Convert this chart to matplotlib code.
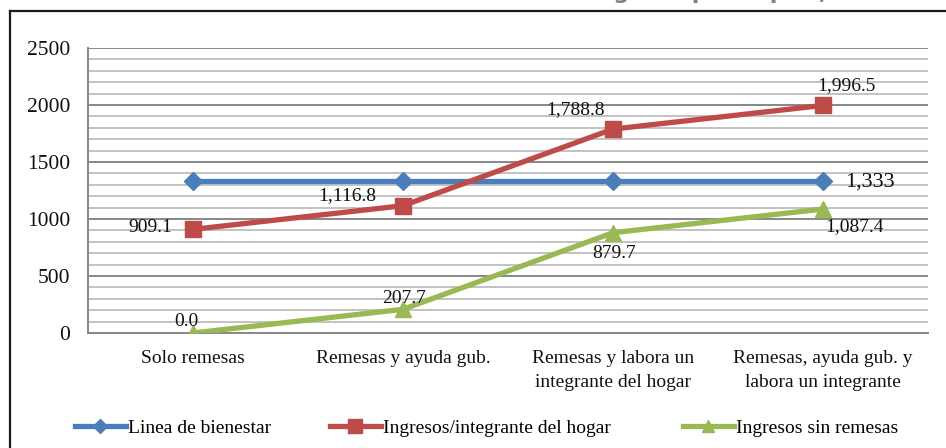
import matplotlib
matplotlib.use("Agg")
import matplotlib.pyplot as plt
from matplotlib.ticker import MultipleLocator
from matplotlib.lines import Line2D

categories = ["Solo remesas", "Remesas y ayuda gub.",
              "Remesas y labora un\nintegrante del hogar",
              "Remesas, ayuda gub. y\nlabora un integrante"]
linea_bienestar = [1333, 1333, 1333, 1333]
ingresos_integrante = [909.1, 1116.8, 1788.8, 1996.5]
ingresos_sin_remesas = [0.0, 207.7, 879.7, 1087.4]
labels_red = ["909.1", "1,116.8", "1,788.8", "1,996.5"]
labels_green = ["0.0", "207.7", "879.7", "1,087.4"]
label_blue = "1,333"
series_names = ["Linea de bienestar", "Ingresos/integrante del hogar", "Ingresos sin remesas"]

W, H = 946, 448
fig = plt.figure(figsize=(W / 100, H / 100), dpi=100)
plt.rcParams['font.family'] = ['Liberation Serif', 'DejaVu Serif']

L, R, T, B = 88, 928, 48, 333
ax = fig.add_axes([L / W, 1 - B / H, (R - L) / W, (B - T) / H])

blue = "#4A7EBB"
red = "#BE4B48"
green = "#98B954"

x = list(range(len(categories)))
ax.plot(x, linea_bienestar, color=blue, lw=3.8, marker="D", ms=9.5, zorder=3,
        label=series_names[0], solid_capstyle="round")
ax.plot(x, ingresos_integrante, color=red, lw=3.8, marker="s", ms=11, zorder=3,
        label=series_names[1], solid_capstyle="round")
ax.plot(x, ingresos_sin_remesas, color=green, lw=3.8, marker="^", ms=12, zorder=3,
        label=series_names[2], solid_capstyle="round")

ax.set_xlim(-0.5, 3.5)
ax.set_ylim(0, 2500)
ax.yaxis.set_major_locator(MultipleLocator(500))
ax.yaxis.set_minor_locator(MultipleLocator(100))
ax.grid(axis="y", which="major", color="#878787", lw=1.4, zorder=0)
ax.grid(axis="y", which="minor", color="#BDBDBD", lw=1.3, zorder=0)
ax.set_axisbelow(True)
for s in ["top", "right"]:
    ax.spines[s].set_visible(False)
for s in ["left", "bottom"]:
    ax.spines[s].set_color("#878787")
    ax.spines[s].set_linewidth(1.4)
ax.set_xticks(x)
ax.set_xticklabels(categories, fontsize=14, color="#111111", linespacing=1.55)
ax.tick_params(axis="x", length=0, pad=12)
ax.tick_params(axis="y", which="both", length=0, pad=13, labelsize=15.5, labelcolor="#111111")

fs = 14
# data labels
off = dict(textcoords="offset points", fontsize=fs, color="#111111")
red_off = [(-31, 1), (-40, 7), (-27, 14), (17, 14)]
green_off = [(-5, 8), (1, 8), (1, -15), (23, -13)]
for i in x:
    ax.annotate(labels_red[i], (i, ingresos_integrante[i]), xytext=red_off[i],
                ha="center", va="center", **off)
    ax.annotate(labels_green[i], (i, ingresos_sin_remesas[i]), xytext=green_off[i],
                ha="center", va="center", **off)
ax.annotate(label_blue, (3, linea_bienestar[3]), xytext=(34, -1),
            ha="center", va="center", textcoords="offset points", fontsize=16, color="#111111")

# legend: three entries placed like the reference
handles = [Line2D([], [], color=blue, lw=3.8, marker="D", ms=7),
           Line2D([], [], color=red, lw=3.8, marker="s", ms=10),
           Line2D([], [], color=green, lw=3.8, marker="^", ms=9)]
starts = [75, 330, 683]
for h, name, xs in zip(handles, series_names, starts):
    leg = fig.legend([h], [name], loc="center left",
                     bbox_to_anchor=(xs / W, 1 - 428 / H), frameon=False, fontsize=14,
                     handlelength=2.6, handletextpad=0.1, borderaxespad=0, borderpad=0)

# outer frame (chart border)
fig.add_artist(Line2D([10 / W, 10 / W], [0, 1 - 11 / H], color="#1a1a1a", lw=1.6,
                      transform=fig.transFigure))
fig.add_artist(Line2D([10 / W, 1], [1 - 11 / H, 1 - 11 / H], color="#1a1a1a", lw=1.6,
                      transform=fig.transFigure))
# cropped title above frame (only its lower part is visible in the reference)
fig.text(0.995, 1 + 1 / H, "Nivel de ingreso per cápita, remesas", ha="right", va="baseline",
         fontsize=16, fontweight="bold", color="#7f7f7f", family="DejaVu Sans")

fig.savefig("out.png", dpi=100)
